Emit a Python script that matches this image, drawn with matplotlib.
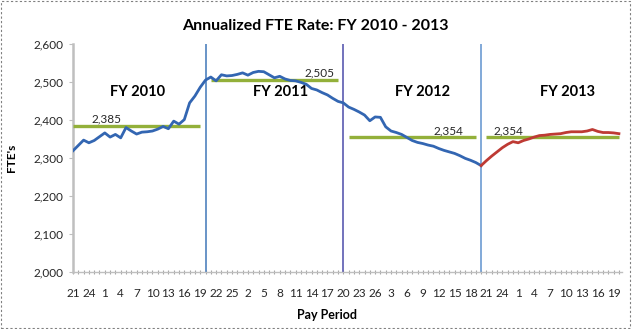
import numpy as np
import matplotlib
matplotlib.use('Agg')
from matplotlib import pyplot as plt
from matplotlib.patches import Rectangle
from matplotlib.ticker import FuncFormatter

# pay period labels, one per category (FY2010 starts at PP21)
periods = [21, 22, 23, 24, 25, 26] + list(range(1, 27)) * 3 + list(range(1, 21))

# annualized FTE, blue = FY2010-FY2012, red = FY2013
fte_blue = [2319, 2333, 2347, 2340, 2346, 2356, 2366, 2355, 2362, 2353,
            2380, 2371, 2363, 2368, 2369, 2371, 2376, 2383, 2377, 2397,
            2389, 2401, 2445, 2463, 2486, 2505, 2513, 2503, 2519, 2516,
            2517, 2520, 2524, 2518, 2525, 2528, 2527, 2519, 2511, 2515,
            2508, 2504, 2503, 2499, 2494, 2483, 2479, 2472, 2466, 2457,
            2449, 2445, 2434, 2428, 2421, 2413, 2398, 2408, 2407, 2382,
            2371, 2367, 2362, 2354, 2346, 2341, 2338, 2334, 2331, 2325,
            2320, 2316, 2312, 2306, 2299, 2294, 2288, 2280]
fte_red = [2280, 2293, 2305, 2316, 2327, 2336, 2343, 2340, 2346, 2350,
           2355, 2359, 2360, 2362, 2363, 2364, 2367, 2369, 2369, 2369,
           2371, 2375, 2370, 2367, 2367, 2366, 2364]

# fiscal year averages and the pay period span each one covers
fy_names = ['FY 2010', 'FY 2011', 'FY 2012', 'FY 2013']
fy_avg = [2385, 2505, 2354, 2354]
fy_span = [(0, 24), (26, 50), (52, 76), (78, 103)]
fy_start = [25, 51, 77]

plt.rcParams['font.family'] = ['Lato', 'DejaVu Sans']

fig = plt.figure(figsize=(6.32, 3.29), dpi=100)
ax = fig.add_axes([0.1155, 0.1733, 0.868, 0.693])

x_blue = np.arange(len(fte_blue))
x_red = np.arange(len(fte_blue) - 1, len(fte_blue) - 1 + len(fte_red))

# fiscal year dividers
div_colors = ['#4F81BD', '#5A5AB0', '#6C9BD2']
for xs, c in zip(fy_start, div_colors):
    ax.plot([xs, xs], [2000, 2600], color=c, lw=1.2, zorder=2)

# averages
for (a, b), v in zip(fy_span, fy_avg):
    ax.plot([a, b], [v, v], color='#93B03A', lw=2.4, solid_capstyle='butt', zorder=3)

ax.plot(x_blue, fte_blue, color='#3366B2', lw=2.0, zorder=4)
ax.plot(x_red, fte_red, color='#BE3A34', lw=2.0, zorder=4)

# average labels
lbl_x = [6.4, 46.5, 70.9, 82.1]
for xl, v in zip(lbl_x, fy_avg):
    ax.text(xl, v + 4, f'{v:,}', ha='center', va='bottom', fontsize=8.5, color='#262626')

# fiscal year titles
name_x = [12.2, 39.2, 66.0, 93.4]
for xn, n in zip(name_x, fy_names):
    ax.text(xn, 2474, n, ha='center', va='center', fontsize=10.5, fontweight='bold')

ax.set_xlim(0, 103.5)
ax.set_ylim(2000, 2600)
ax.set_yticks(range(2000, 2601, 100))
ax.yaxis.set_major_formatter(FuncFormatter(lambda v, p: f'{int(v):,}'))
ax.set_xticks(range(len(periods)))
ax.set_xticklabels([str(p) if i % 3 == 0 else '' for i, p in enumerate(periods)])

for s in ['top', 'right']:
    ax.spines[s].set_visible(False)
ax.spines['left'].set_color('#BFBFBF')
ax.spines['left'].set_linewidth(1.8)
ax.spines['bottom'].set_color('#BFBFBF')
ax.spines['bottom'].set_linewidth(1.0)
ax.tick_params(axis='y', length=3, color='#BFBFBF', labelsize=8.5, labelcolor='#262626', pad=4)
ax.tick_params(axis='x', length=3, color='#A6A6A6', direction='inout', labelsize=8.5,
               labelcolor='#262626', pad=10)

ax.set_ylabel("FTE's", fontsize=8.5, fontweight='bold', labelpad=12)
fig.text(327 / 632, 1 - 315 / 329, 'Pay Period', ha='center', va='center', fontsize=9, fontweight='bold')
fig.text(315 / 632, 1 - 26 / 329, 'Annualized FTE Rate: FY 2010 - 2013', ha='center', va='center',
         fontsize=11.5, fontweight='bold')

# dashed chart border
fig.patches.append(Rectangle((0.002, 0.003), 0.995, 0.994, transform=fig.transFigure, fill=False,
                             ec='#808080', lw=0.8, ls=(0, (2, 2))))

fig.savefig('out.png', dpi=100)
